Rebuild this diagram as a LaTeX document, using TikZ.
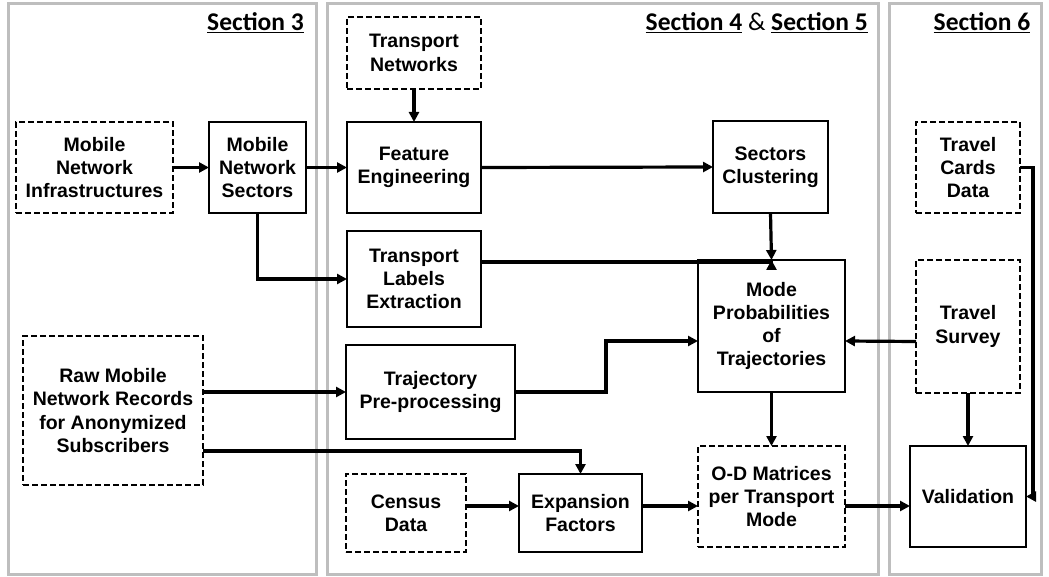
\documentclass[tikz,border=0pt]{standalone}
\usepackage{fontspec}
\setmainfont{Liberation Sans}
\newfontfamily\secfont{Carlito}
\usetikzlibrary{arrows.meta}
\definecolor{panelgray}{RGB}{190,190,190}
\begin{document}
\begin{tikzpicture}[x=1pt, y=-1pt,
    box/.style={draw, line width=2.8pt, inner sep=0pt, outer sep=0pt, align=center,
        font=\fontsize{19.5}{23.3}\selectfont\bfseries},
    dbox/.style={box, line width=2.4pt, dash pattern=on 6pt off 3pt},
    arr/.style={line width=3.2pt, -{Triangle[length=10pt, width=10pt]}},
    seclabel/.style={font=\secfont\fontsize{25.5}{28}\selectfont, inner sep=0pt}]
        \useasboundingbox (0,0) rectangle (1049,577);
        \draw [panelgray, line width=3pt] (8,4) rectangle (316,574);
        \draw [panelgray, line width=3pt] (327,4) rectangle (878,574);
        \draw [panelgray, line width=3pt] (889,4) rectangle (1041,574);
        \node [seclabel, anchor=base east] (sec3) at (304,31) {\bfseries\underline{Section 3}};
        \node [seclabel, anchor=base east] (sec45) at (868,31) {{\bfseries\underline{Section 4}} \& {\bfseries\underline{Section 5}}};
        \node [seclabel, anchor=base] (sec6) at (982,31) {\bfseries\underline{Section 6}};
        \node [dbox, minimum width=157, minimum height=91] (infra) at (94.5,167.5) {Mobile\\Network\\Infrastructures};
        \node [box, minimum width=97, minimum height=91] (sectors) at (257.5,167.5) {Mobile\\Network\\Sectors};
        \node [dbox, minimum width=134, minimum height=72] (tnets) at (414,53) {Transport\\Networks};
        \node [box, minimum width=134, minimum height=91] (feature) at (414,167.5) {Feature\\Engineering};
        \node [box, minimum width=115, minimum height=92] (cluster) at (770.5,167) {Sectors\\Clustering};
        \node [dbox, minimum width=104, minimum height=91] (cards) at (968,167.5) {Travel\\Cards\\Data};
        \node [box, minimum width=134, minimum height=96] (labels) at (414,279) {Transport\\Labels\\Extraction};
        \node [box, minimum width=147, minimum height=132] (mode) at (771.5,326) {Mode\\Probabilities\\of\\Trajectories};
        \node [dbox, minimum width=104, minimum height=133] (survey) at (968,326.5) {Travel\\Survey};
        \node [dbox, minimum width=180, minimum height=149] (raw) at (113,410.5) {Raw Mobile\\Network Records\\for Anonymized\\Subscribers};
        \node [box, minimum width=169, minimum height=94] (traj) at (430.5,392) {Trajectory\\Pre-processing};
        \node [dbox, minimum width=120, minimum height=78] (census) at (406,513) {Census\\Data};
        \node [box, minimum width=123, minimum height=78] (expan) at (580.5,513) {Expansion\\Factors};
        \node [dbox, minimum width=147, minimum height=101] (odmat) at (771.5,496.5) {O-D Matrices\\per Transport\\Mode};
        \node [box, minimum width=116, minimum height=101] (valid) at (968,496.5) {Validation};
        % connectors
        \draw [arr] (infra.east) -- (sectors.west);
        \draw [arr] (sectors.east) -- (feature.west);
        \draw [arr] (tnets.south) -- (feature.north);
        \draw [arr] (feature.east) -- (cluster.west);
        \draw [arr] (sectors.south) |- (labels.west);
        \draw [arr] ([yshift=17pt]labels.east) -| (mode.north);
        \draw [arr] (cluster.south) -- (mode.north);
        \draw [arr] ([yshift=-15pt]survey.west) -- ([yshift=-15pt]mode.east);
        \draw [arr] (traj.east) -- ++(91,0) |- ([yshift=-15pt]mode.west);
        \draw [arr] ([yshift=18.5pt]raw.east) -- (traj.west);
        \draw [arr] ([yshift=-40.5pt]raw.east) -| (expan.north);
        \draw [arr] ([yshift=7pt]census.east) -- ([yshift=7pt]expan.west);
        \draw [arr] ([yshift=7pt]expan.east) -- ([yshift=-9.5pt]odmat.west);
        \draw [arr] (mode.south) -- (odmat.north);
        \draw [arr] ([yshift=-9.5pt]odmat.east) -- ([yshift=-9.5pt]valid.west);
        \draw [arr] (survey.south) -- (valid.north);
        \draw [arr] (cards.east) -- ++(13,0) |- (valid.east);
    \end{tikzpicture}
\end{document}
